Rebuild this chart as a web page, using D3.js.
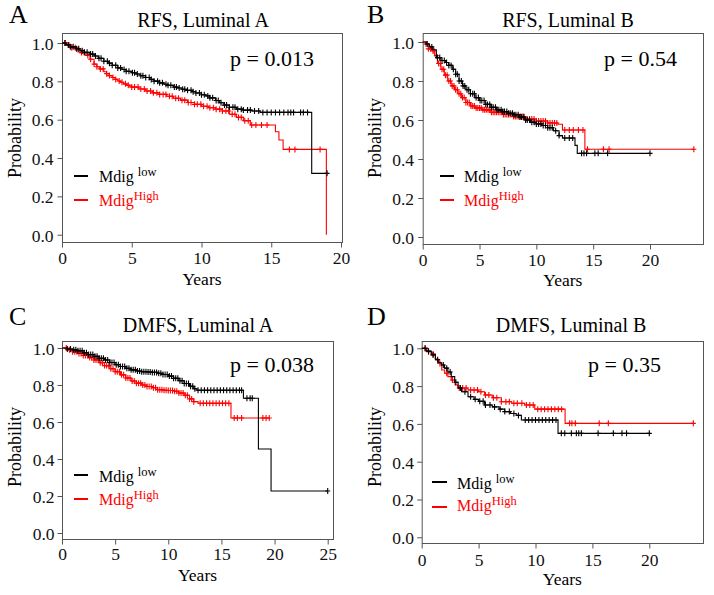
<!DOCTYPE html>
<html>
<head>
<meta charset="utf-8">
<script src="https://cdn.jsdelivr.net/npm/d3@7"></script>
<style>
html,body{margin:0;padding:0;background:#fff;}
svg{display:block;}
text{font-family:"Liberation Serif","Times New Roman",serif;}
</style>
</head>
<body>
<svg id="chart" width="714" height="595"></svg>
<script>
// ---------------- DATA ----------------
const panelLetters = ["A", "B", "C", "D"];
const panelTitles = ["RFS, Luminal A", "RFS, Luminal B", "DMFS, Luminal A", "DMFS, Luminal B"];
const pValues = ["p = 0.013", "p = 0.54", "p = 0.038", "p = 0.35"];
const yTickValues = [0, 0.2, 0.4, 0.6, 0.8, 1.0];
const xTicks20 = [0, 5, 10, 15, 20];
const xTicks25 = [0, 5, 10, 15, 20, 25];
const xAxisLabel = "Years";
const yAxisLabel = "Probability";
const legendBase = "Mdig";
const legendLowSup = "low";
const legendHighSup = "High";

// Panel A: RFS, Luminal A
const aLowTime = [0, 0.3, 0.6, 1.0, 1.3, 1.6, 2.0, 2.3, 2.6, 3.0, 3.3, 3.6, 4.0, 4.3, 4.6, 5.0, 5.3, 5.6, 6.0, 6.3, 6.6, 7.0, 7.3, 7.6, 8.0, 8.3, 8.6, 9.0, 9.3, 9.6, 10.0, 10.3, 10.6, 11.0, 11.3, 11.6, 12.0, 12.5, 13.0, 13.6, 14.2, 17.9, 19.0];
const aLowSurv = [1.0, 0.99, 0.98, 0.97, 0.96, 0.952, 0.942, 0.932, 0.92, 0.905, 0.895, 0.884, 0.87, 0.862, 0.853, 0.845, 0.838, 0.829, 0.82, 0.81, 0.801, 0.792, 0.785, 0.779, 0.77, 0.765, 0.759, 0.753, 0.746, 0.739, 0.73, 0.724, 0.714, 0.70, 0.688, 0.676, 0.665, 0.655, 0.65, 0.645, 0.638, 0.32, 0.32];
const aLowCensor = [0.2, 0.45, 0.6, 0.8, 1.05, 1.2, 1.45, 1.6, 1.8, 2.05, 2.2, 2.4, 2.65, 2.8, 3.0, 3.25, 3.4, 3.6, 3.85, 4.0, 4.2, 4.45, 4.6, 4.8, 5.05, 5.2, 5.4, 5.65, 5.8, 6.0, 6.25, 6.4, 6.6, 6.85, 7.0, 7.2, 7.45, 7.6, 7.8, 8.05, 8.2, 8.4, 8.65, 8.8, 9.0, 9.25, 9.4, 9.6, 9.85, 10.0, 10.2, 10.45, 10.6, 10.8, 11.05, 11.2, 11.4, 11.65, 11.8, 12.0, 12.25, 12.4, 12.6, 12.85, 13.0, 13.3, 13.5, 13.8, 14.1, 14.4, 14.7, 15.0, 15.3, 15.6, 15.9, 16.2, 16.4, 16.6, 17.1, 17.3, 17.6, 19.0];
const aHighTime = [0, 0.3, 0.7, 1.0, 1.3, 1.7, 2.0, 2.3, 2.5, 2.7, 3.0, 3.2, 3.4, 3.6, 3.8, 4.0, 4.2, 4.4, 4.6, 4.8, 5.0, 5.5, 6.0, 6.5, 7.0, 7.5, 8.0, 8.5, 9.0, 9.5, 10.0, 10.5, 11.0, 11.5, 12.0, 12.5, 13.0, 13.5, 15.3, 15.55, 15.85, 18.95];
const aHighSurv = [1.0, 0.99, 0.975, 0.965, 0.95, 0.935, 0.915, 0.89, 0.876, 0.865, 0.85, 0.84, 0.83, 0.82, 0.81, 0.802, 0.795, 0.787, 0.78, 0.775, 0.77, 0.76, 0.75, 0.74, 0.732, 0.722, 0.712, 0.702, 0.69, 0.68, 0.67, 0.662, 0.655, 0.645, 0.628, 0.612, 0.595, 0.572, 0.537, 0.494, 0.445, 0.0];
const aHighCensor = [0.25, 0.5, 0.7, 0.95, 1.15, 1.4, 1.6, 1.85, 2.05, 2.3, 2.5, 2.75, 2.95, 3.2, 3.4, 3.65, 3.85, 4.1, 4.3, 4.55, 4.75, 5.0, 5.2, 5.45, 5.65, 5.9, 6.1, 6.35, 6.55, 6.8, 7.0, 7.25, 7.45, 7.7, 7.9, 8.15, 8.35, 8.6, 8.8, 9.05, 9.25, 9.5, 9.7, 9.95, 10.15, 10.4, 10.6, 10.85, 11.05, 11.3, 11.5, 11.75, 11.95, 12.2, 12.4, 12.65, 12.85, 13.1, 13.35, 13.6, 13.9, 14.3, 14.7, 16.3, 16.7, 18.5];

// Panel B: RFS, Luminal B
const bLowTime = [0, 0.3, 0.6, 0.9, 1.2, 1.6, 2.0, 2.3, 2.6, 2.9, 3.2, 3.5, 3.8, 4.2, 4.6, 5.0, 5.5, 6.0, 6.5, 7.0, 7.5, 8.0, 8.5, 9.0, 9.5, 10.0, 10.5, 11.0, 11.5, 12.0, 12.3, 13.4, 13.6, 20.0];
const bLowSurv = [1.0, 0.99, 0.975, 0.96, 0.92, 0.905, 0.895, 0.88, 0.86, 0.835, 0.80, 0.775, 0.755, 0.735, 0.715, 0.70, 0.68, 0.665, 0.652, 0.643, 0.635, 0.627, 0.615, 0.60, 0.588, 0.58, 0.572, 0.56, 0.545, 0.52, 0.508, 0.47, 0.429, 0.429];
const bLowCensor = [0.4, 0.8, 1.3, 1.5, 1.7, 1.9, 2.1, 2.3, 2.5, 2.7, 2.9, 3.05, 3.2, 3.4, 3.55, 3.7, 3.9, 4.05, 4.2, 4.4, 4.55, 4.7, 4.9, 5.05, 5.2, 5.4, 5.55, 5.7, 5.9, 6.05, 6.2, 6.4, 6.55, 6.7, 6.9, 7.05, 7.2, 7.4, 7.55, 7.7, 7.9, 8.05, 8.2, 8.4, 8.55, 8.7, 8.9, 9.05, 9.2, 9.4, 9.6, 9.8, 10.0, 10.2, 10.4, 10.6, 10.8, 11.0, 11.2, 11.4, 11.7, 12.0, 12.5, 12.9, 13.2, 13.98, 14.19, 14.42, 15.15, 15.44, 16.27, 20.0];
const bHighTime = [0, 0.3, 0.5, 0.8, 1.05, 1.3, 1.6, 1.9, 2.2, 2.5, 2.8, 3.1, 3.4, 3.8, 4.2, 4.6, 5.2, 6.0, 7.0, 8.0, 9.0, 10.0, 11.0, 11.9, 12.3, 14.27, 23.86];
const bHighSurv = [1.0, 0.99, 0.965, 0.955, 0.93, 0.89, 0.86, 0.83, 0.80, 0.775, 0.755, 0.735, 0.715, 0.69, 0.672, 0.662, 0.652, 0.64, 0.628, 0.618, 0.605, 0.595, 0.585, 0.578, 0.549, 0.45, 0.45];
const bHighCensor = [0.3, 0.5, 0.7, 0.9, 1.0, 1.2, 1.4, 1.55, 1.7, 1.85, 2.0, 2.15, 2.3, 2.45, 2.6, 2.75, 2.9, 3.05, 3.2, 3.35, 3.5, 3.65, 3.8, 3.95, 4.1, 4.25, 4.4, 4.55, 4.7, 4.85, 5.0, 5.15, 5.3, 5.45, 5.6, 5.75, 5.9, 6.05, 6.2, 6.35, 6.5, 6.65, 6.8, 6.95, 7.1, 7.25, 7.4, 7.55, 7.7, 7.85, 8.0, 8.15, 8.3, 8.45, 8.6, 8.75, 8.9, 9.05, 9.2, 9.4, 9.6, 9.8, 10.0, 10.2, 10.4, 10.6, 10.8, 11.0, 11.2, 11.4, 11.6, 11.8, 12.5, 12.9, 13.25, 13.7, 14.1, 14.5, 15.9, 16.4, 23.86];

// Panel C: DMFS, Luminal A
const cLowTime = [0, 0.5, 1.0, 1.5, 2.0, 2.5, 3.0, 3.5, 4.0, 4.5, 5.0, 5.5, 6.0, 6.5, 7.0, 7.5, 8.0, 8.5, 9.0, 9.5, 10.0, 10.5, 11.0, 11.5, 12.0, 12.4, 12.7, 17.07, 18.48, 19.67, 25.0];
const cLowSurv = [1.0, 0.995, 0.99, 0.985, 0.975, 0.965, 0.955, 0.945, 0.935, 0.922, 0.91, 0.90, 0.89, 0.882, 0.876, 0.872, 0.87, 0.868, 0.863, 0.857, 0.848, 0.836, 0.823, 0.808, 0.793, 0.78, 0.772, 0.728, 0.454, 0.227, 0.227];
const cLowCensor = [0.5, 0.8, 1.1, 1.3, 1.5, 1.7, 1.9, 2.1, 2.3, 2.5, 2.7, 2.9, 3.1, 3.3, 3.5, 3.7, 3.9, 4.1, 4.3, 4.5, 4.7, 4.9, 5.1, 5.3, 5.5, 5.7, 5.9, 6.1, 6.3, 6.5, 6.7, 6.9, 7.1, 7.3, 7.5, 7.7, 7.9, 8.1, 8.3, 8.5, 8.7, 8.9, 9.1, 9.3, 9.5, 9.7, 9.9, 10.1, 10.3, 10.5, 10.7, 10.9, 11.1, 11.3, 11.5, 11.7, 11.9, 12.1, 12.3, 12.5, 12.8, 13.1, 13.4, 13.7, 14.0, 14.3, 14.6, 14.9, 15.2, 15.5, 15.8, 16.1, 16.4, 16.7, 16.9, 17.4, 17.7, 17.9, 25.0];
const cHighTime = [0, 0.5, 1.0, 1.5, 2.0, 2.5, 3.0, 3.5, 4.0, 4.5, 5.0, 5.5, 6.0, 6.5, 7.0, 7.5, 8.0, 8.5, 9.0, 9.5, 10.0, 10.6, 11.0, 11.5, 12.0, 12.4, 12.8, 15.9, 19.5];
const cHighSurv = [1.0, 0.99, 0.98, 0.97, 0.96, 0.948, 0.935, 0.92, 0.905, 0.888, 0.872, 0.855, 0.838, 0.822, 0.81, 0.80, 0.792, 0.785, 0.775, 0.772, 0.77, 0.766, 0.757, 0.745, 0.725, 0.71, 0.701, 0.622, 0.622];
const cHighCensor = [0.4, 0.7, 1.0, 1.2, 1.4, 1.6, 1.8, 2.0, 2.2, 2.4, 2.6, 2.8, 3.0, 3.2, 3.4, 3.6, 3.8, 4.0, 4.2, 4.4, 4.6, 4.8, 5.0, 5.2, 5.4, 5.6, 5.8, 6.0, 6.2, 6.4, 6.6, 6.8, 7.0, 7.2, 7.4, 7.6, 7.8, 8.0, 8.2, 8.4, 8.6, 8.8, 9.0, 9.2, 9.4, 9.6, 9.8, 10.0, 10.2, 10.4, 10.6, 10.8, 11.0, 11.2, 11.4, 11.6, 11.8, 12.0, 12.2, 12.4, 13.0, 13.3, 13.6, 13.9, 14.2, 14.5, 14.8, 15.1, 15.4, 15.7, 16.2, 16.5, 16.9, 18.9, 19.2, 19.5];

// Panel D: DMFS, Luminal B
const dLowTime = [0, 0.4, 0.84, 1.2, 1.5, 1.72, 2.0, 2.3, 2.6, 2.9, 3.2, 3.5, 4.07, 4.6, 5.0, 5.53, 6.2, 6.8, 7.29, 7.8, 8.3, 8.76, 11.98, 20.0];
const dLowSurv = [1.0, 0.985, 0.965, 0.94, 0.925, 0.912, 0.895, 0.875, 0.85, 0.82, 0.79, 0.77, 0.744, 0.73, 0.72, 0.70, 0.69, 0.678, 0.665, 0.655, 0.645, 0.621, 0.55, 0.55];
const dLowCensor = [0.3, 0.6, 1.0, 1.4, 1.9, 2.2, 2.5, 3.0, 3.4, 3.8, 4.3, 4.7, 5.1, 5.4, 5.6, 6.0, 6.4, 6.9, 7.3, 7.7, 8.1, 8.5, 9.1, 9.4, 9.7, 10.0, 10.3, 10.6, 10.9, 11.2, 11.5, 11.8, 12.27, 12.57, 13.15, 13.59, 13.8, 14.03, 15.5, 16.84, 17.6, 18.0, 20.0];
const dHighTime = [0, 0.55, 0.88, 1.2, 1.43, 1.76, 2.02, 2.3, 2.6, 2.93, 3.19, 4.07, 5.0, 5.53, 6.2, 7.0, 7.91, 9.05, 9.93, 12.6, 23.87];
const dHighSurv = [1.0, 0.982, 0.97, 0.945, 0.92, 0.885, 0.868, 0.85, 0.832, 0.806, 0.79, 0.779, 0.77, 0.753, 0.738, 0.717, 0.709, 0.70, 0.678, 0.603, 0.603];
const dHighCensor = [0.3, 0.6, 1.0, 1.6, 2.2, 2.7, 3.3, 3.6, 3.9, 4.3, 4.6, 4.9, 5.2, 5.6, 5.9, 6.3, 6.6, 7.0, 7.4, 7.7, 8.1, 8.4, 8.8, 9.2, 9.5, 9.8, 10.2, 10.5, 10.8, 11.1, 11.4, 11.7, 12.0, 12.3, 13.0, 13.2, 13.5, 15.6, 16.4, 23.87];

// ---------------- LAYOUT ----------------
const panels = [
  { low: [aLowTime, aLowSurv, aLowCensor], high: [aHighTime, aHighSurv, aHighCensor], xTicks: xTicks20,
    box: [62, 33, 342, 242], xr: [62, 341], yr: [234.7, 43],
    letter: [9, 23], title: [203, 27], p: [314, 66], leg: [74, 88, 99, 176, 200, 182, 205.5],
    xLab: 264, years: 285, prob: [21, 138], yLabRight: 53.5 },
  { low: [bLowTime, bLowSurv, bLowCensor], high: [bHighTime, bHighSurv, bHighCensor], xTicks: xTicks20,
    box: [422.7, 33, 703, 244], xr: [422.7, 650], yr: [237, 42],
    letter: [367, 23], title: [568, 27], p: [677, 66], leg: [440, 454, 464, 176, 200, 182, 205.5],
    xLab: 266, years: 286, prob: [381, 138], yLabRight: 414 },
  { low: [cLowTime, cLowSurv, cLowCensor], high: [cHighTime, cHighSurv, cHighCensor], xTicks: xTicks25,
    box: [62, 341, 333, 539], xr: [62, 327.7], yr: [533, 348],
    letter: [9, 325], title: [198, 332], p: [314, 372], leg: [74, 88, 99, 475, 499, 482, 504.5],
    xLab: 560, years: 581, prob: [21, 447], yLabRight: 54.5 },
  { low: [dLowTime, dLowSurv, dLowCensor], high: [dHighTime, dHighSurv, dHighCensor], xTicks: xTicks20,
    box: [421.7, 341, 703, 543], xr: [421.7, 649.3], yr: [537.3, 348.3],
    letter: [367, 325], title: [571, 332], p: [661, 372], leg: [432, 447, 457, 482, 507, 488.5, 511],
    xLab: 566, years: 585, prob: [381, 447], yLabRight: 414 }
];

const LOW_COLOR = "#000000";
const HIGH_COLOR = "#ff0000";
const svg = d3.select("#chart");

panels.forEach((P, i) => {
  const xMax = P.xTicks[P.xTicks.length - 1];
  const x = d3.scaleLinear().domain([0, xMax]).range(P.xr);
  const y = d3.scaleLinear().domain([0, 1]).range(P.yr);
  const g = svg.append("g");

  // box
  g.append("rect").attr("x", P.box[0] + 0.5).attr("y", P.box[1] + 0.5)
    .attr("width", P.box[2] - P.box[0]).attr("height", P.box[3] - P.box[1])
    .attr("fill", "none").attr("stroke", "#555").attr("stroke-width", 1);

  // y axis ticks
  const yAxis = d3.axisLeft(y).tickValues(yTickValues).tickFormat(d3.format(".1f")).tickSize(5).tickPadding(3);
  const ya = g.append("g").attr("transform", `translate(${P.box[0] + 0.5},0)`).call(yAxis);
  ya.select(".domain").remove();
  ya.selectAll(".tick line").attr("stroke", "#555");
  ya.selectAll(".tick text").attr("font-size", 17.5).attr("fill", "#111")
    .attr("font-family", '"Liberation Serif", serif')
    .attr("x", P.yLabRight - (P.box[0] + 0.5)).attr("dy", "0.36em");

  // x axis ticks
  const xAxis = d3.axisBottom(x).tickValues(P.xTicks).tickFormat(d3.format("d")).tickSize(5).tickPadding(3);
  const xa = g.append("g").attr("transform", `translate(0,${P.box[3] + 0.5})`).call(xAxis);
  xa.select(".domain").remove();
  xa.selectAll(".tick line").attr("stroke", "#555");
  xa.selectAll(".tick text").attr("font-size", 17.5).attr("fill", "#111")
    .attr("font-family", '"Liberation Serif", serif')
    .attr("y", P.xLab - (P.box[3] + 0.5)).attr("dy", 0);

  // curves
  const line = d3.line().x(d => x(d[0])).y(d => y(d[1])).curve(d3.curveStepAfter);
  const drawCurve = (series, color) => {
    const [times, surv, cens] = series;
    const pts = times.map((t, k) => [t, surv[k]]);
    g.append("path").datum(pts).attr("d", line).attr("fill", "none")
      .attr("stroke", color).attr("stroke-width", 1.1);
    const bis = d3.bisector(d => d).right;
    const cg = g.append("g").attr("stroke", color).attr("stroke-width", 1.1);
    cens.forEach(t => {
      const k = Math.max(0, bis(times, t) - 1);
      const cx = x(t), cy = y(surv[k]);
      cg.append("path").attr("d", `M${cx - 2.5},${cy}H${cx + 2.5}M${cx},${cy - 3}V${cy + 3}`);
    });
  };
  drawCurve(P.high, HIGH_COLOR);
  drawCurve(P.low, LOW_COLOR);

  // texts
  g.append("text").attr("x", P.letter[0]).attr("y", P.letter[1]).attr("font-size", 26).text(panelLetters[i]);
  g.append("text").attr("x", P.title[0]).attr("y", P.title[1]).attr("font-size", 20)
    .attr("text-anchor", "middle").text(panelTitles[i]);
  g.append("text").attr("x", P.p[0]).attr("y", P.p[1]).attr("font-size", 22)
    .attr("text-anchor", "end").text(pValues[i]);
  g.append("text").attr("x", (P.box[0] + P.box[2]) / 2).attr("y", P.years).attr("font-size", 17.5)
    .attr("text-anchor", "middle").text(xAxisLabel);
  g.append("text").attr("transform", `translate(${P.prob[0]},${P.prob[1]}) rotate(-90)`)
    .attr("font-size", 18).attr("text-anchor", "middle").text(yAxisLabel);

  // legend
  const L = P.leg;
  g.append("line").attr("x1", L[0]).attr("x2", L[1]).attr("y1", L[3]).attr("y2", L[3])
    .attr("stroke", LOW_COLOR).attr("stroke-width", 2);
  g.append("line").attr("x1", L[0]).attr("x2", L[1]).attr("y1", L[4]).attr("y2", L[4])
    .attr("stroke", HIGH_COLOR).attr("stroke-width", 2);
  const tl = g.append("text").attr("x", L[2]).attr("y", L[5]).attr("font-size", 16).attr("fill", LOW_COLOR);
  tl.append("tspan").text(legendBase + " ");
  tl.append("tspan").attr("dy", -6).attr("font-size", 12.5).text(legendLowSup);
  const th = g.append("text").attr("x", L[2]).attr("y", L[6]).attr("font-size", 16).attr("fill", HIGH_COLOR);
  th.append("tspan").text(legendBase);
  th.append("tspan").attr("dy", -6).attr("font-size", 12.5).text(legendHighSup);
});
</script>
</body>
</html>
